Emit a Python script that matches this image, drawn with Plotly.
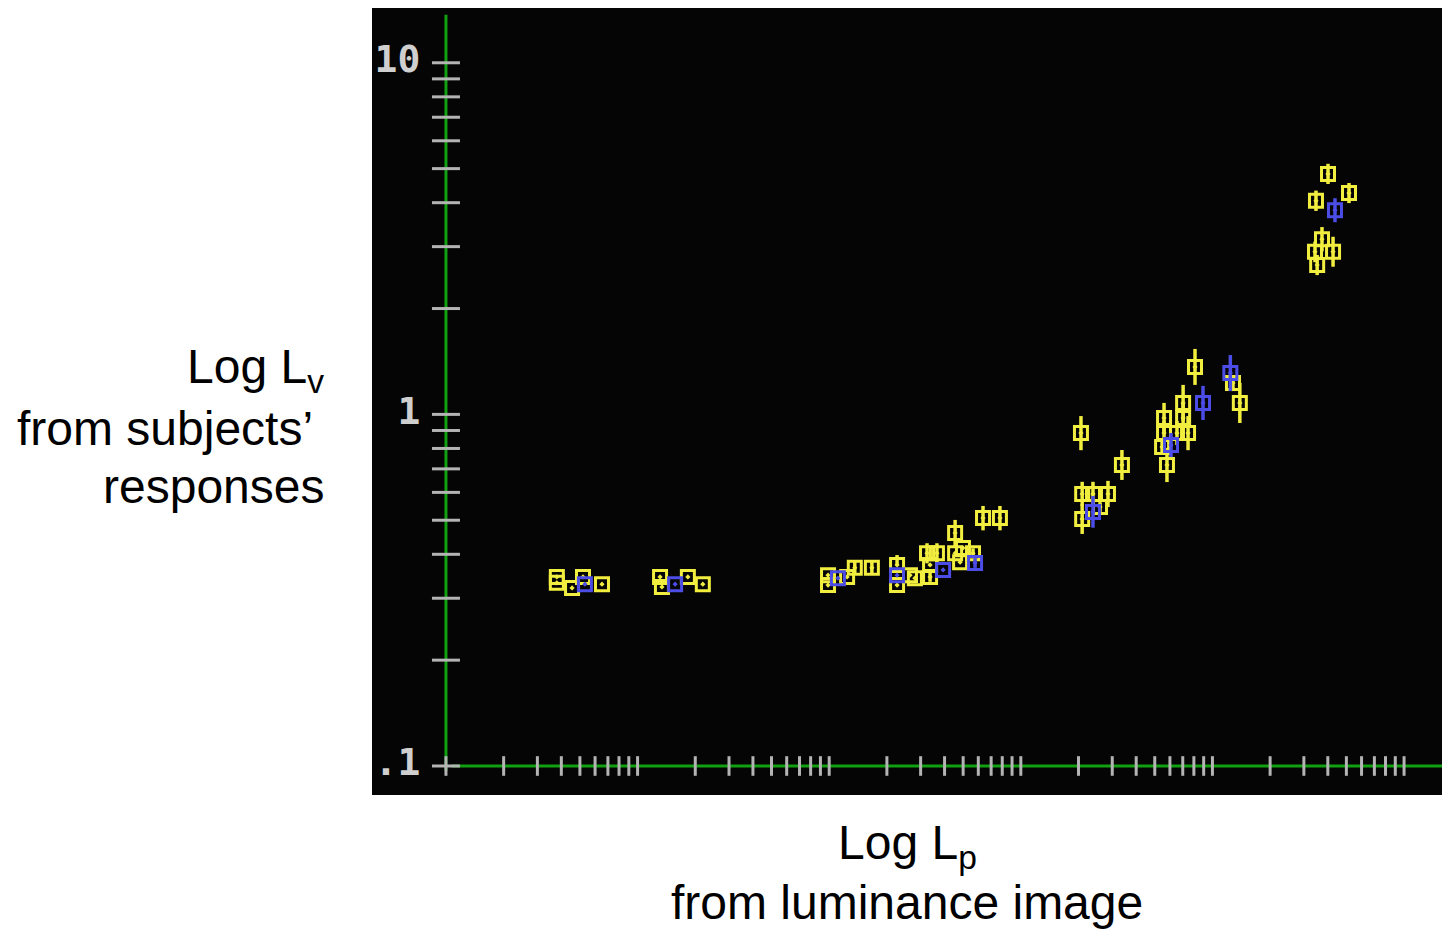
import plotly.graph_objects as go

# ---------------- data ----------------
# yellow series: individual subject estimates
yel_x = [0.0379, 0.0379, 0.0455, 0.0519, 0.0652,
         0.131, 0.134, 0.183, 0.219,
         0.986, 0.986, 1.24, 1.36, 1.67, 2.26, 2.26, 2.64, 2.80,
         3.24, 3.65, 3.36, 3.36, 4.54, 4.54, 4.99, 4.82, 5.63, 6.35, 7.78,
         20.6, 33.7, 20.9, 23.8, 28.5, 20.9, 25.9,
         81.1, 128, 139, 70.3, 55.9, 70.3, 55.9, 65.3, 74.6, 54.6, 57.9,
         401, 516, 347, 373, 343, 426, 352]
yel_y = [0.345, 0.332, 0.321, 0.345, 0.329,
         0.345, 0.323, 0.345, 0.329,
         0.349, 0.327, 0.345, 0.366, 0.366, 0.373, 0.327, 0.349, 0.342,
         0.403, 0.403, 0.373, 0.345, 0.460, 0.403, 0.417, 0.380, 0.403, 0.507, 0.507,
         0.885, 0.718, 0.594, 0.594, 0.594, 0.504, 0.545,
         1.364, 1.228, 1.078, 1.078, 0.977, 0.977, 0.885, 0.885, 0.885, 0.808, 0.718,
         4.83, 4.26, 4.05, 3.15, 2.90, 2.90, 2.66]
yel_err_plus = [0, 0, 0, 0, 0,
                0, 0, 0, 0,
                0, 0, 0, 0.017, 0.017, 0.025, 0, 0, 0,
                0.027, 0.027, 0, 0.011, 0.041, 0, 0, 0, 0.013, 0.042, 0.042,
                0.104, 0.074, 0.049, 0.049, 0.053, 0.052, 0.018,
                0.171, 0.066, 0.151, 0.135, 0.101, 0.101, 0.073, 0.073, 0.104, 0.044, 0.085,
                0.33, 0.29, 0.28, 0.26, 0.20, 0.30, 0.18]
yel_err_minus = [0, 0, 0, 0, 0,
                 0, 0, 0, 0,
                 0, 0, 0, 0.016, 0.016, 0, 0, 0, 0,
                 0.026, 0.026, 0, 0.011, 0.038, 0, 0, 0, 0.013, 0.039, 0.039,
                 0.094, 0.067, 0.045, 0.045, 0.049, 0.047, 0.017,
                 0.151, 0.063, 0.133, 0.120, 0.091, 0.091, 0.067, 0.067, 0.094, 0.041, 0.076,
                 0.31, 0.27, 0.26, 0.24, 0.19, 0.27, 0.17]

# blue series: mean per scene
blu_x = [0.0531, 0.157, 1.11, 2.26, 3.93, 5.77, 23.8, 60.8, 89.3, 124, 436]
blu_y = [0.329, 0.329, 0.342, 0.349, 0.361, 0.378, 0.528, 0.818, 1.078, 1.311, 3.81]
blu_err_plus = [0, 0, 0, 0, 0, 0.012, 0.058, 0.067, 0.127, 0.164, 0.31]
blu_err_minus = [0, 0, 0, 0, 0, 0.012, 0.052, 0.062, 0.114, 0.146, 0.29]

# axes / ticks
x_origin = 0.01
y_origin = 0.1
x_axis_end = 1600
y_axis_end = 13.7
x_decades = [0.01, 0.1, 1, 10, 100]
tick_mult = [2, 3, 4, 5, 6, 7, 8, 9, 10]
y_decades = [0.1, 1]
y_tick_labels = ["10", "1", ".1"]
y_tick_label_vals = [10, 1, 0.1]
label_x = 0.00735

# titles
y_title_lines = ["Log L<sub>v</sub>", "from subjects’", "responses"]
x_title_lines = ["Log L<sub>p</sub>", "from luminance image"]

# ---------------- styling ----------------
YELLOW = "#f2ee40"
BLUE = "#4c4ce6"
GREEN = "#11a011"
GRAY = "#b4b4b4"
TITLE_FONT = dict(family="Liberation Sans, Arial", size=48, color="black")

x_ticks = [x_origin] + [d * m for d in x_decades for m in tick_mult]
y_ticks = [y_origin] + [d * m for d in y_decades for m in tick_mult]

fig = go.Figure()

# axis lines
fig.add_trace(go.Scatter(x=[x_origin, x_origin], y=[y_origin * 0.97, y_axis_end],
                         mode="lines", line=dict(color=GREEN, width=3),
                         hoverinfo="skip", showlegend=False))
fig.add_trace(go.Scatter(x=[x_origin * 1.07, x_axis_end], y=[y_origin, y_origin],
                         mode="lines", line=dict(color=GREEN, width=3),
                         hoverinfo="skip", showlegend=False))

# tick marks
fig.add_trace(go.Scatter(x=x_ticks, y=[y_origin] * len(x_ticks), mode="markers",
                         marker=dict(symbol="line-ns", size=14,
                                     line=dict(color=GRAY, width=3)),
                         hoverinfo="skip", showlegend=False, cliponaxis=False))
fig.add_trace(go.Scatter(x=[x_origin] * len(y_ticks), y=y_ticks, mode="markers",
                         marker=dict(symbol="line-ew", size=20,
                                     line=dict(color=GRAY, width=3)),
                         hoverinfo="skip", showlegend=False, cliponaxis=False))

# tick labels
fig.add_trace(go.Scatter(x=[label_x] * len(y_tick_labels), y=y_tick_label_vals,
                         mode="text", text=y_tick_labels, textposition="middle left",
                         textfont=dict(family="DejaVu Sans Mono", size=38, color="#cfcfcf",
                                       weight="bold"),
                         hoverinfo="skip", showlegend=False, cliponaxis=False))

# data: yellow
fig.add_trace(go.Scatter(
    x=yel_x, y=yel_y, mode="markers",
    marker=dict(symbol="square-open-dot", size=13, color=YELLOW,
                line=dict(color=YELLOW, width=3)),
    error_y=dict(type="data", symmetric=False, array=yel_err_plus,
                 arrayminus=yel_err_minus, color=YELLOW, thickness=3.5, width=0),
    showlegend=False))

# data: blue
fig.add_trace(go.Scatter(
    x=blu_x, y=blu_y, mode="markers",
    marker=dict(symbol="square-open-dot", size=13, color=BLUE,
                line=dict(color=BLUE, width=3)),
    error_y=dict(type="data", symmetric=False, array=blu_err_plus,
                 arrayminus=blu_err_minus, color=BLUE, thickness=3.5, width=0),
    showlegend=False))

annotations = []
for txt, xx, yy in zip(y_title_lines, [-0.043, -0.0537, -0.043], [0.540, 0.4663, 0.3926]):
    annotations.append(dict(xref="paper", yref="paper", x=xx, y=yy,
                            xanchor="right", yanchor="middle", align="right",
                            showarrow=False, text=txt, font=TITLE_FONT))
for txt, yy in zip(x_title_lines, [-0.0648, -0.1372]):
    annotations.append(dict(xref="paper", yref="paper", x=0.5, y=yy,
                            xanchor="center", yanchor="middle", align="center",
                            showarrow=False, text=txt, font=TITLE_FONT))

fig.update_layout(
    width=1442, height=933,
    margin=dict(l=372, r=0, t=8, b=138),
    paper_bgcolor="white",
    plot_bgcolor="#050505",
    showlegend=False,
    xaxis=dict(type="log", range=[-2.386, 3.198], showgrid=False, zeroline=False,
               showticklabels=False, showline=False, ticks=""),
    yaxis=dict(type="log", range=[-1.0825, 1.1558], showgrid=False, zeroline=False,
               showticklabels=False, showline=False, ticks=""),
    annotations=annotations,
)

fig.write_html("out.html")
